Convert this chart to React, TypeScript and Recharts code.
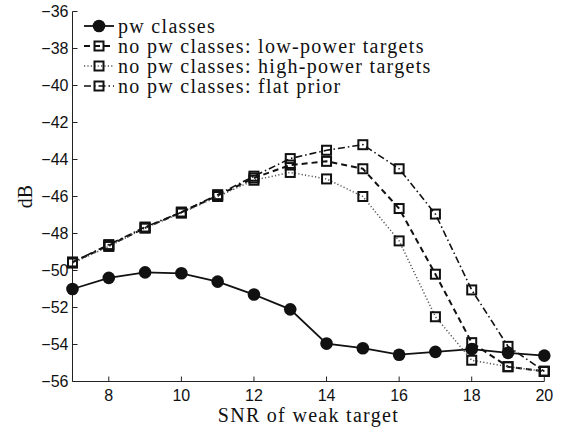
import React from 'react';
import { LineChart, Line, XAxis, YAxis, Label, Legend } from 'recharts';

// SNR of the weak target (x axis)
const snr = [7, 8, 9, 10, 11, 12, 13, 14, 15, 16, 17, 18, 19, 20];

// dB values
const pwClasses = [-51.0, -50.4, -50.1, -50.15, -50.6, -51.3, -52.1, -53.95, -54.2, -54.55, -54.4, -54.25, -54.45, -54.6];
const lowPower = [-49.55, -48.65, -47.7, -46.85, -45.95, -45.0, -44.3, -44.1, -44.5, -46.65, -50.2, -53.9, -55.2, -55.45];
const highPower = [-49.6, -48.7, -47.7, -46.9, -46.0, -45.12, -44.7, -45.05, -46.0, -48.4, -52.5, -54.85, -55.2, -55.45];
const flatPrior = [-49.55, -48.6, -47.65, -46.85, -45.9, -44.9, -43.95, -43.5, -43.2, -44.5, -46.95, -51.05, -54.1, -55.45];

const xTicks = [8, 10, 12, 14, 16, 18, 20];
const yTicks = [-56, -54, -52, -50, -48, -46, -44, -42, -40, -38, -36];

const data = snr.map((s, i) => ({
    snr: s,
    pw: pwClasses[i],
    low: lowPower[i],
    high: highPower[i],
    flat: flatPrior[i],
}));

const serif = 'Liberation Serif, Times New Roman, DejaVu Serif, serif';
const sans = 'Liberation Sans, Arial, Helvetica, sans-serif';

const series = [
    { key: 'pw', name: 'pw classes', dash: undefined, width: 1.8, color: '#111', marker: 'circle' },
    { key: 'low', name: 'no pw classes: low-power targets', dash: '6 4', width: 2, color: '#111', marker: 'square' },
    { key: 'high', name: 'no pw classes: high-power targets', dash: '1.2 2.2', width: 1.5, color: '#555', marker: 'square' },
    { key: 'flat', name: 'no pw classes: flat prior', dash: '7 3 1.5 3', width: 1.6, color: '#111', marker: 'square' },
];

const squareDot = (props: any) => {
    const { cx, cy, index } = props;
    if (cx == null || cy == null) return <g key={`e-${index}`} />;
    return (
        <rect key={`sq-${index}`} x={cx - 4.5} y={cy - 4.5} width={9} height={9}
            fill="none" stroke="#111" strokeWidth={2} />
    );
};

const minus = (v: number) => String(v).replace('-', '\u2212');

const renderLegend = () => (
    <svg width={440} height={84} style={{ display: 'block' }}>
        {series.map((s, i) => {
            const cy = 10 + i * 20;
            return (
                <g key={s.key}>
                    <line x1={4} x2={34} y1={cy} y2={cy} stroke={s.color} strokeWidth={s.width} strokeDasharray={s.dash} />
                    {s.marker === 'circle'
                        ? <circle cx={19} cy={cy} r={6.3} fill="#111" />
                        : <rect x={14.5} y={cy - 4.5} width={9} height={9} fill="none" stroke="#111" strokeWidth={2} />}
                    <text x={38} y={cy + 6.5} style={{ fontFamily: serif, fontSize: 20, letterSpacing: 1.3 }} fill="#111">{s.name}</text>
                </g>
            );
        })}
    </svg>
);

export default function App() {
    return (
        <div style={{ position: 'absolute', left: 0, top: 0, background: '#fff' }}>
            <LineChart width={567} height={429} data={data} margin={{ top: 11.5, right: 22.7, bottom: 17.5, left: 0 }}>
                <XAxis dataKey="snr" type="number" domain={[7, 20]} ticks={xTicks} interval={0} height={30}
                    tickSize={-5} tickMargin={13.5} axisLine={{ stroke: '#222' }} tickLine={{ stroke: '#222' }}
                    tick={{ fill: '#111', fontSize: 16, style: { fontFamily: sans } }}>
                    <Label value="SNR of weak target" position="bottom" offset={-4}
                        style={{ fontFamily: serif, fontSize: 20, letterSpacing: 1.3, fill: '#111' }} />
                </XAxis>
                <YAxis type="number" domain={[-56, -36]} ticks={yTicks} interval={0} width={72.5}
                    tickSize={-5} tickMargin={9} axisLine={{ stroke: '#222' }} tickLine={{ stroke: '#222' }}
                    tickFormatter={minus} tick={{ fill: '#111', fontSize: 16, style: { fontFamily: sans } }}>
                    <Label value="dB" angle={-90} position="insideLeft" offset={25}
                        style={{ textAnchor: 'middle', fontFamily: serif, fontSize: 20, fill: '#111' }} />
                </YAxis>
                <Legend layout="vertical" align="center" verticalAlign="middle" content={renderLegend}
                    wrapperStyle={{ left: 80, top: 16, width: 440, height: 84 }} />
                {series.map((s) => (
                    <Line key={s.key} dataKey={s.key} name={s.name} stroke={s.color} strokeWidth={s.width}
                        strokeDasharray={s.dash} isAnimationActive={false}
                        dot={s.marker === 'circle' ? { r: 6.3, fill: '#111', stroke: '#111', strokeWidth: 0 } : squareDot}
                        activeDot={false} />
                ))}
            </LineChart>
        </div>
    );
}
